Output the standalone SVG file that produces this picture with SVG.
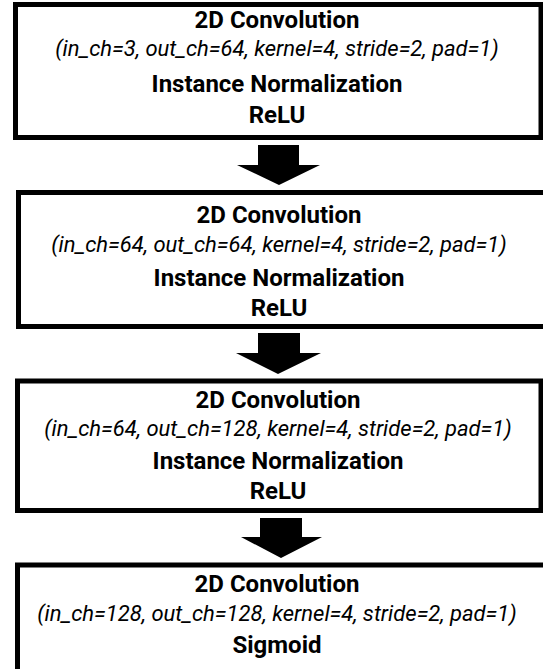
<svg xmlns="http://www.w3.org/2000/svg" width="543" height="669" viewBox="0 0 543 669">
<style>
.box{fill:#fff;stroke:#000;stroke-width:5}
.t{font-family:Roboto,"Liberation Sans",sans-serif;font-weight:bold;font-size:24px;text-anchor:middle;fill:#000}
.p{font-family:Roboto,"Liberation Sans",sans-serif;font-style:italic;font-size:22px;text-anchor:middle;fill:#000}
.arr{fill:#000}
</style>
<rect width="543" height="669" fill="#fff"/>
<g id="connectors">
<polygon class="arr" points="258,145 299,145 299,165 320,165 279,185 237,165 258,165"/>
<polygon class="arr" points="258,333 300,333 300,353 321,353 278,374 236,353 258,353"/>
<polygon class="arr" points="260,518 302,518 302,537 322,537 281,558 241,537 260,537"/>
</g>
<g id="node1">
<rect class="box" x="15.5" y="4.5" width="525.5" height="133"/>
<text class="t" x="277" y="28">2D Convolution</text>
<text class="p" x="277" y="56">(in_ch=3, out_ch=64, kernel=4, stride=2, pad=1)</text>
<text class="t" x="277" y="92">Instance Normalization</text>
<text class="t" x="277" y="123">ReLU</text>
</g>
<g id="node2">
<rect class="box" x="18.5" y="192.5" width="530" height="134"/>
<text class="t" x="279" y="223">2D Convolution</text>
<text class="p" x="279" y="252">(in_ch=64, out_ch=64, kernel=4, stride=2, pad=1)</text>
<text class="t" x="279" y="286">Instance Normalization</text>
<text class="t" x="279" y="316">ReLU</text>
</g>
<g id="node3">
<rect class="box" x="17.5" y="381" width="523.5" height="129.5"/>
<text class="t" x="278" y="408">2D Convolution</text>
<text class="p" x="278" y="436">(in_ch=64, out_ch=128, kernel=4, stride=2, pad=1)</text>
<text class="t" x="278" y="469">Instance Normalization</text>
<text class="t" x="278" y="499">ReLU</text>
</g>
<g id="node4">
<rect class="box" x="17.5" y="565" width="530" height="110"/>
<text class="t" x="277" y="592">2D Convolution</text>
<text class="p" x="277" y="621">(in_ch=128, out_ch=128, kernel=4, stride=2, pad=1)</text>
<text class="t" x="277" y="653">Sigmoid</text>
</g>
</svg>
